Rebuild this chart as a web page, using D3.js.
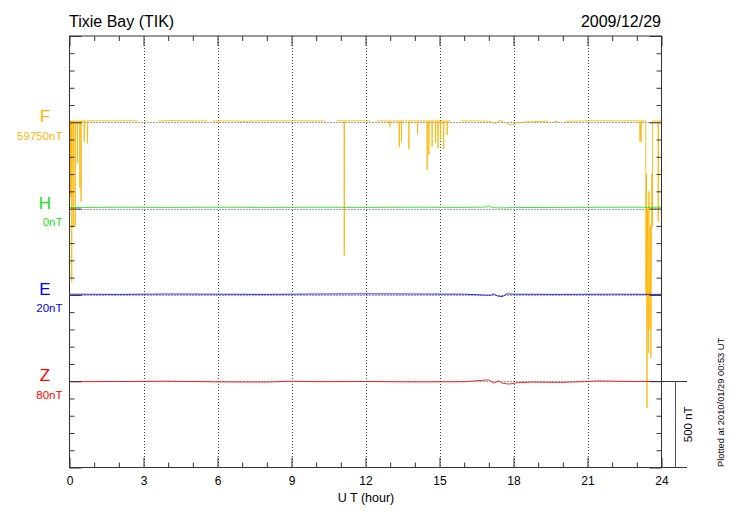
<!DOCTYPE html>
<html>
<head>
  <style>
    body { margin: 0; background: #fff; }
    svg text { font-family: "Liberation Sans", Arial, sans-serif; }
    .axis path.domain { display: none; }
    .axis line { stroke: #333; }
  </style>
</head>
<body>
  <div id="chart"></div>

  <script src="https://d3js.org/d3.v7.min.js"></script>
  <script>
    // title texts
    const station = 'Tixie Bay (TIK)';
    const dateLabel = '2009/12/29';
    const plottedAt = 'Plotted at 2010/01/29 00:53 UT';

    // components: name, baseline label, colour
    const components = ['F', 'H', 'E', 'Z'];
    const baseLabels = ['59750nT', '0nT', '20nT', '80nT'];
    const colors = ['#ffb400', '#16e016', '#0000ff', '#ff0000'];

    const hourTicks = [0, 3, 6, 9, 12, 15, 18, 21, 24];

    // [hour, deviation in nT from baseline]; null = data gap
    const fData = [
      [0, 8], [0.04, 8], [0.05, -431], [0.06, 8], [0.08, 8], [0.09, -923], [0.1, 5], [0.14, 8],
      [0.15, -612], [0.16, 8], [0.22, 8], [0.23, -605], [0.24, 6], [0.31, 8], [0.32, -236], [0.33, 8],
      [0.41, 8], [0.42, -380], [0.43, 6], [0.46, 8], [0.47, -460], [0.48, 8], [0.59, 8], [0.6, -112],
      [0.61, 8], [0.72, 8], [0.73, -122], [0.74, 8], [1.2, 9], [1.8, 8], [2.3, 9], [2.76, 8],
      [2.77, null], [3.08, 8], [3.16, 8], [3.17, null], [3.61, 8], [4.2, 10], [4.8, 8], [5.59, 8],
      [5.6, null], [5.8, 7], [6.5, 8], [7.2, 6], [7.8, 9], [8.5, 8], [9.2, 9], [9.8, 8], [10.38, 8],
      [10.39, null], [10.82, 9], [11.13, 8], [11.14, -772], [11.15, 8], [11.6, 9], [12.2, 8],
      [12.21, null], [12.45, 8], [12.98, 8], [12.99, -25], [13.0, 8], [13.36, 8], [13.37, -145],
      [13.38, 6], [13.45, 8], [13.46, -112], [13.47, 8], [13.75, 8], [13.76, -155], [13.77, 8],
      [14.1, 8], [14.11, -68], [14.12, 8], [14.49, 8], [14.5, -276], [14.51, 6], [14.56, 8],
      [14.57, -189], [14.58, 8], [14.69, 8], [14.7, -141], [14.71, 8], [14.83, 8], [14.84, -120],
      [14.85, 8], [14.93, 8], [14.94, -151], [14.95, 8], [15.03, 8], [15.04, -103], [15.05, 8],
      [15.16, 8], [15.17, -156], [15.18, 8], [15.3, 8], [15.31, -74], [15.32, 8], [15.45, 8],
      [15.46, null], [15.85, 8], [16.5, 8], [17.0, 6], [17.27, -7], [17.45, 12], [17.6, 2],
      [17.88, -16], [18.1, -5], [18.5, 2], [19.0, 5], [19.42, 6], [19.43, null], [19.62, 5],
      [19.82, 5], [19.83, null], [20.11, 6], [20.8, 8], [21.5, 9], [22.2, 8], [22.9, 9], [23.12, 8],
      [23.13, -112], [23.14, 8], [23.16, 8], [23.17, -112], [23.18, 8], [23.36, 8], [23.37, -1000],
      [23.39, -300], [23.41, -1654], [23.43, -500], [23.45, -1100], [23.47, -1336], [23.49, -400],
      [23.51, -900], [23.53, -1200], [23.55, -600], [23.57, -1365], [23.59, -800], [23.61, -300],
      [23.63, -605], [23.64, 8], [23.86, 8], [23.87, -576], [23.88, 8], [24, 8]
    ];
    const hData = [
      [0, 6], [2, 8], [4, 7], [6, 8], [8, 7], [10, 8], [12, 7], [14, 8], [16, 7], [16.9, 9],
      [17.0, 15], [17.15, 6], [17.5, 4], [18, 6], [20, 7], [22, 8], [24, 8]
    ];
    const eData = [
      [0, 4], [2, 3], [4, 5], [6, 4], [8, 3], [10, 5], [12, 6], [14, 5], [16, 4], [17.07, -2],
      [17.2, 6], [17.34, -6], [17.54, -10], [17.74, 6], [18, 4], [20, 3], [22, 4], [24, 3]
    ];
    const zData = [
      [0, -3], [2, -2], [4, 0], [6, -4], [8, -5], [9, 0], [10, -3], [12, -2], [14, -4], [16, -3],
      [17, 8], [17.2, -11], [17.4, 2], [17.54, -11], [17.81, -17], [18.15, -9], [18.8, -5],
      [19.9, -7], [21, -2], [21.4, 2], [22.5, -1], [24, -2]
    ];
    const series = [fData, hData, eData, zData];

    const width = 730;
    const height = 520;
    // each trace sits 500 nT above the next one
    const offsets = [2000, 1500, 1000, 500];

    const svg = d3.select('#chart')
      .append('svg')
      .attr('width', width)
      .attr('height', height);

    const x = d3.scaleLinear().domain([0, 24]).range([69.5, 661.5]);
    const y = d3.scaleLinear().domain([0, 2500]).range([467.5, 36]);

    // dotted grid
    svg.append('g')
      .selectAll('line')
      .data(hourTicks.slice(1, -1))
      .enter()
      .append('line')
      .attr('x1', d => Math.round(x(d)) + 0.5)
      .attr('x2', d => Math.round(x(d)) + 0.5)
      .attr('y1', y(2500))
      .attr('y2', y(0))
      .attr('stroke', '#444')
      .attr('stroke-dasharray', '1,2');

    svg.append('g')
      .selectAll('line')
      .data(offsets)
      .enter()
      .append('line')
      .attr('x1', x(0))
      .attr('x2', x(24))
      .attr('y1', d => Math.round(y(d)) + 0.5)
      .attr('y2', d => Math.round(y(d)) + 0.5)
      .attr('stroke', '#444')
      .attr('stroke-dasharray', '1,2');

    // traces
    series.forEach((data, i) => {
      const line = d3.line()
        .defined(d => d[1] !== null)
        .x(d => x(d[0]))
        .y(d => y(offsets[i] + d[1]));
      svg.append('path')
        .datum(data)
        .attr('d', line)
        .attr('fill', 'none')
        .attr('stroke', colors[i])
        .attr('stroke-opacity', 0.85)
        .attr('stroke-width', 1);
    });

    // axes
    const hours = d3.range(0, 25);
    const nts = d3.range(0, 2501, 100);

    const axisB = svg.append('g')
      .attr('class', 'axis')
      .attr('transform', `translate(0, ${y(0)})`)
      .call(d3.axisBottom(x).tickValues(hours).tickSize(-5).tickPadding(9)
        .tickFormat(d => d % 3 === 0 ? d : ''));
    axisB.selectAll('.tick line').filter(d => d % 3 === 0).attr('y2', -10);
    axisB.selectAll('text').attr('font-size', 12).attr('fill', '#000')
      .style('font-family', '"Liberation Sans", Arial, sans-serif');

    const axisT = svg.append('g')
      .attr('class', 'axis')
      .attr('transform', `translate(0, ${y(2500)})`)
      .call(d3.axisTop(x).tickValues(hours).tickSize(-5).tickFormat(''));
    axisT.selectAll('.tick line').filter(d => d % 3 === 0).attr('y2', 10);

    const axisL = svg.append('g')
      .attr('class', 'axis')
      .attr('transform', `translate(${x(0)}, 0)`)
      .call(d3.axisLeft(y).tickValues(nts).tickSize(-5).tickFormat(''));
    axisL.selectAll('.tick line').filter(d => d % 500 === 0).attr('x2', 12);

    const axisR = svg.append('g')
      .attr('class', 'axis')
      .attr('transform', `translate(${x(24)}, 0)`)
      .call(d3.axisRight(y).tickValues(nts).tickSize(-5).tickFormat(''));
    axisR.selectAll('.tick line').filter(d => d % 500 === 0).attr('x2', -12);

    // frame
    svg.append('rect')
      .attr('x', x(0))
      .attr('y', y(2500))
      .attr('width', x(24) - x(0))
      .attr('height', y(0) - y(2500))
      .attr('fill', 'none')
      .attr('stroke', '#333');

    // scale bar on the right
    svg.append('line')
      .attr('x1', x(24)).attr('x2', 687)
      .attr('y1', y(0)).attr('y2', y(0))
      .attr('stroke', '#333');
    svg.append('line')
      .attr('x1', x(24)).attr('x2', 687)
      .attr('y1', Math.round(y(500)) + 0.5).attr('y2', Math.round(y(500)) + 0.5)
      .attr('stroke', '#333');
    svg.append('line')
      .attr('x1', 675.5).attr('x2', 675.5)
      .attr('y1', y(500)).attr('y2', y(0))
      .attr('stroke', '#555');
    svg.append('text')
      .attr('transform', `translate(691.5, ${(y(500) + y(0)) / 2}) rotate(-90)`)
      .attr('text-anchor', 'middle')
      .attr('font-size', 11.5)
      .text('500 nT');

    svg.append('text')
      .attr('transform', 'translate(724, 467) rotate(-90)')
      .attr('font-size', 9.3)
      .text(plottedAt);

    // titles
    svg.append('text')
      .attr('x', 69)
      .attr('y', 27)
      .attr('font-size', 16)
      .text(station);
    svg.append('text')
      .attr('x', 661)
      .attr('y', 27)
      .attr('text-anchor', 'end')
      .attr('font-size', 16)
      .text(dateLabel);

    svg.append('text')
      .attr('x', 366)
      .attr('y', 501.5)
      .attr('text-anchor', 'middle')
      .attr('font-size', 12.5)
      .text('U T (hour)');

    // component labels
    components.forEach((c, i) => {
      const by = y(offsets[i]);
      svg.append('text')
        .attr('x', 45)
        .attr('y', by)
        .attr('text-anchor', 'middle')
        .attr('font-size', 17)
        .attr('fill', colors[i])
        .text(c);
      svg.append('text')
        .attr('x', 62.5)
        .attr('y', by + 17.5)
        .attr('text-anchor', 'end')
        .attr('font-size', 11.5)
        .attr('fill', colors[i])
        .text(baseLabels[i]);
    });
  </script>
</body>
</html>
